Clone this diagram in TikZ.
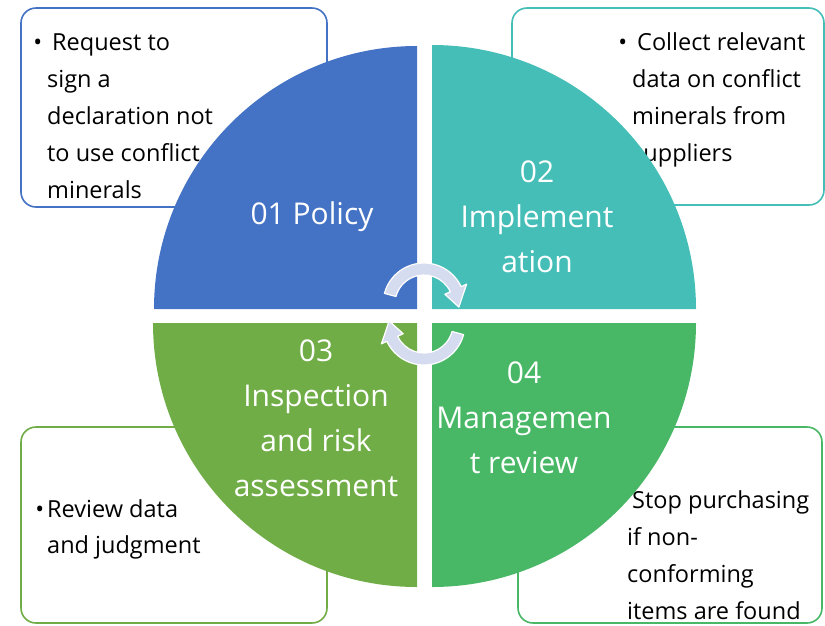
\documentclass[tikz,border=0pt]{standalone}
\usepackage{fontspec}
\setmainfont{Open Sans}
\definecolor{PolicyBlue}{RGB}{68,114,196}
\definecolor{ImplTeal}{RGB}{69,190,184}
\definecolor{InspGreen}{RGB}{112,173,71}
\definecolor{MgmtGreen}{RGB}{72,184,102}
\definecolor{CycleFill}{RGB}{214,220,240}

\begin{document}
\begin{tikzpicture}[x=1pt,y=1pt]
  \useasboundingbox (0,0) rectangle (825,-625);

  \tikzstyle{NoteBox}=[line width=1.6pt,rounded corners=15pt,fill=white]
  \tikzstyle{NoteText}=[anchor=base west,inner sep=0pt,align=left,font=\fontsize{23.5}{37}\selectfont]
  \tikzstyle{PhaseText}=[text=white,align=center,inner sep=0pt,font=\fontsize{30}{45}\selectfont]
  \tikzstyle{CycleArrow}=[fill=CycleFill,draw=white,line width=1.2pt,line join=round]

  \draw[NoteBox,draw=PolicyBlue] (21,-8) rectangle (327,-207);
  \draw[NoteBox,draw=ImplTeal] (512,-8) rectangle (824,-205);
  \draw[NoteBox,draw=InspGreen] (21,-427) rectangle (327,-623);
  \draw[NoteBox,draw=MgmtGreen] (518,-427) rectangle (822,-623);

  % anchored at the baseline of the last line
  \node[NoteText] (policynote) at (47,-198)
    {\llap{\textbullet\hspace{5pt}}\hspace{5pt}Request to\\sign a\\declaration not\\to use conflict\\minerals};
  \node[NoteText] (implnote) at (632,-161)
    {\llap{\textbullet\hspace{5pt}}\hspace{5pt}Collect relevant\\data on conflict\\minerals from\\suppliers};
  \node[NoteText,font=\fontsize{23.5}{36}\selectfont] (inspnote) at (47,-553)
    {\llap{\textbullet\hspace{3pt}}Review data\\and judgment};
  \node[NoteText] (mgmtnote) at (627,-619)
    {\llap{\textbullet\hspace{5pt}}\hspace{5pt}Stop purchasing\\if non-\\conforming\\items are found};

  % four quarters of the cycle
  \fill[PolicyBlue] (417,-309) -- (154,-309) arc[start angle=180,end angle=90,radius=263] -- cycle;
  \fill[ImplTeal] (432,-309) -- (432,-45) arc[start angle=90,end angle=0,radius=264] -- cycle;
  \fill[InspGreen] (417,-323) -- (153,-323) arc[start angle=180,end angle=270,radius=264] -- cycle;
  \fill[MgmtGreen] (432,-323) -- (432,-587) arc[start angle=270,end angle=360,radius=264] -- cycle;

  \node[PhaseText] (policy) at (312,-217) {01 Policy};
  \node[PhaseText] (implementation) at (537,-217) {02\\Implement\\ation};
  \node[PhaseText] (inspection) at (316,-418) {03\\Inspection\\and risk\\assessment};
  \node[PhaseText] (review) at (524,-418) {04\\Managemen\\t review};

  \path[CycleArrow,shift={(424,-304)}] (165:41) arc[start angle=165,end angle=25,radius=41]
    -- (25:47) -- (-5:35) -- (25:23) -- (25:29) arc[start angle=25,end angle=165,radius=29] -- cycle;
  \path[CycleArrow,shift={(424,-324)},rotate=180] (165:41) arc[start angle=165,end angle=25,radius=41]
    -- (25:47) -- (-5:35) -- (25:23) -- (25:29) arc[start angle=25,end angle=165,radius=29] -- cycle;

\end{tikzpicture}
\end{document}
